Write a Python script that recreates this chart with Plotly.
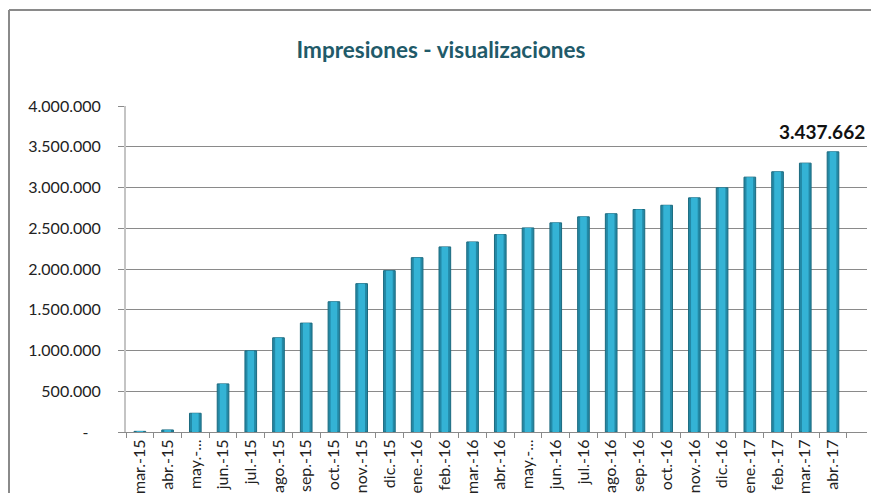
import plotly.graph_objects as go

months = ["mar.-15", "abr.-15", "may.-...", "jun.-15", "jul.-15", "ago.-15", "sep.-15",
          "oct.-15", "nov.-15", "dic.-15", "ene.-16", "feb.-16", "mar.-16", "abr.-16",
          "may.-...", "jun.-16", "jul.-16", "ago.-16", "sep.-16", "oct.-16", "nov.-16",
          "dic.-16", "ene.-17", "feb.-17", "mar.-17", "abr.-17"]
categories = [f"c{i}" for i in range(len(months))]
impressions = [8000, 25000, 230000, 590000, 996000, 1156000, 1336000, 1598000, 1820000,
               1980000, 2139000, 2271000, 2332000, 2422000, 2504000, 2566000, 2640000,
               2678000, 2730000, 2782000, 2873000, 2996000, 3127000, 3193000, 3299000,
               3437662]
ytick_vals = [0, 500000, 1000000, 1500000, 2000000, 2500000, 3000000, 3500000, 4000000]
ytick_text = ["-\u00a0\u00a0\u00a0", "500.000", "1.000.000", "1.500.000", "2.000.000",
              "2.500.000", "3.000.000", "3.500.000", "4.000.000"]
last_label = "3.437.662"

OFF = 8  # page offset (body margin) of the plot div
W, H = 879 - 2 * OFF, 493 - OFF
ml, mr, mt, mb = 126 - OFF, W - (867 - OFF), 106 - OFF, H - (432 - OFF)
pw, ph = W - ml - mr, H - mt - mb

def px2x(px):
    return (px - OFF - ml) / pw

def py2y(py):
    return (H - mb - (py - OFF)) / ph

FONT = "Lato, Liberation Sans, sans-serif"

fig = go.Figure()
# cylinder-like shading: darker full-width bar with a brighter narrow core
fig.add_trace(go.Bar(
    x=categories, y=impressions,
    marker=dict(color="#2389a6", line=dict(color="#1b6a7f", width=1)),
    width=0.42, hoverinfo="skip",
))
fig.add_trace(go.Bar(
    x=categories, y=impressions,
    marker=dict(color="#34b3d5", line=dict(width=0)),
    width=0.24,
))

# chart-area border (top and left edges visible in the crop)
fig.add_shape(type="line", xref="paper", yref="paper",
              x0=px2x(9), x1=px2x(900), y0=py2y(10), y1=py2y(10),
              line=dict(color="#8a8a8a", width=2), layer="below")
fig.add_shape(type="line", xref="paper", yref="paper",
              x0=px2x(9), x1=px2x(9), y0=py2y(10), y1=py2y(520),
              line=dict(color="#8a8a8a", width=2), layer="below")

fig.add_annotation(x=categories[-1], y=impressions[-1], text=f"<b>{last_label}</b>",
                   showarrow=False, xanchor="left", yanchor="middle",
                   xshift=797 - 853, yshift=20,
                   font=dict(family=FONT, size=19, color="#111111"))

fig.update_layout(
    width=W, height=H, autosize=False,
    margin=dict(l=ml, r=mr, t=mt, b=mb, autoexpand=False),
    paper_bgcolor="white", plot_bgcolor="white",
    showlegend=False, barmode="overlay",
    title=dict(text="<b>Impresiones - visualizaciones</b>", xref="container",
               x=(441 - OFF) / W, xanchor="center",
               y=1 - (50 - OFF) / H, yanchor="middle",
               font=dict(family=FONT, size=22.5, color="#215a69")),
    font=dict(family=FONT, size=15, color="#222222"),
)
fig.update_xaxes(
    type="category", tickvals=categories, ticktext=months, tickangle=-90,
    ticks="outside", tickson="boundaries", ticklen=5, tickcolor="#8a8a8a",
    showline=True, linecolor="#8a8a8a", linewidth=1, showgrid=False,
    tickfont=dict(size=16), automargin=False,
)
fig.update_yaxes(
    range=[0, 4000000], tickvals=ytick_vals, ticktext=ytick_text,
    ticks="outside", ticklen=6, tickcolor="#8a8a8a", ticklabelstandoff=14,
    showline=True, linecolor="#c4c4c4", linewidth=2,
    showgrid=True, gridcolor="#8a8a8a", gridwidth=1, zeroline=False,
    tickfont=dict(size=16), automargin=False,
)

fig.write_html("out.html", config={"responsive": False, "displayModeBar": False})
